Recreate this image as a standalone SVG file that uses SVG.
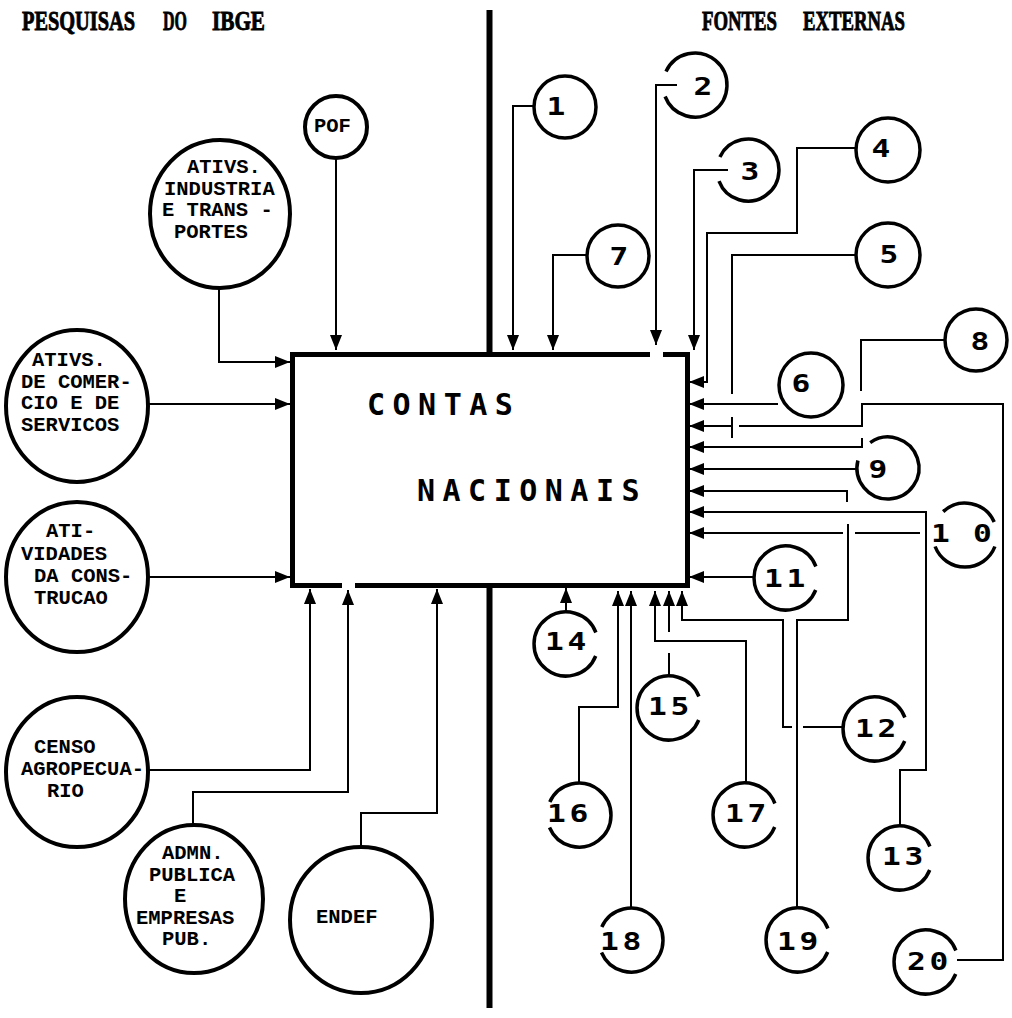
<svg xmlns="http://www.w3.org/2000/svg" width="1012" height="1018" viewBox="0 0 1012 1018">
<style>
.hdr{font-family:"Liberation Serif",serif;font-weight:bold;font-size:28px;fill:#000;stroke:#000;stroke-width:0.9}
.lbl{font-family:"Liberation Mono",monospace;font-weight:bold;font-size:20.5px;fill:#000}
.big{font-family:"DejaVu Sans Mono",monospace;font-weight:bold;font-size:30px;letter-spacing:7.5px;fill:#000}
.num{font-family:"DejaVu Sans Mono",monospace;font-weight:bold;font-size:25px;fill:#000}
.n1{text-anchor:middle}
.n2{letter-spacing:3px}
.bigc{fill:none;stroke:#000;stroke-width:4}
.nc{fill:none;stroke:#000;stroke-width:3.5}
.ln{fill:none;stroke:#000;stroke-width:2}
.box{fill:none;stroke:#000;stroke-width:5;stroke-linejoin:miter}
</style>
<defs>
<marker id="ah" viewBox="0 0 15 12" refX="15" refY="6" markerWidth="15" markerHeight="12" markerUnits="userSpaceOnUse" orient="auto">
<path d="M0,0 L15,6 L0,12 z" fill="#000"/>
</marker>
</defs>
<rect width="1012" height="1018" fill="#fff"/>

<g id="headers">
<text class="hdr" transform="translate(22,30) scale(0.75,1)" textLength="150.7" lengthAdjust="spacingAndGlyphs">PESQUISAS</text>
<text class="hdr" transform="translate(163,30) scale(0.75,1)" textLength="32" lengthAdjust="spacingAndGlyphs">DO</text>
<text class="hdr" transform="translate(212,30) scale(0.75,1)" textLength="70.7" lengthAdjust="spacingAndGlyphs">IBGE</text>
<text class="hdr" transform="translate(702,30) scale(0.75,1)" textLength="100" lengthAdjust="spacingAndGlyphs">FONTES</text>
<text class="hdr" transform="translate(803,30) scale(0.75,1)" textLength="136" lengthAdjust="spacingAndGlyphs">EXTERNAS</text>
</g>

<g id="divider">
<path d="M489.5,10 V352 M489.5,588 V1008" stroke="#000" stroke-width="6" fill="none"/>
</g>

<g id="contas-nacionais">
<path class="box" d="M663,354.5 H687.5 V585.5 H355"/>
<path class="box" d="M342,585.5 H292.5 V354.5 H650"/>
<text class="big" x="367" y="415">CONTAS</text>
<text class="big" x="417" y="501">NACIONAIS</text>
</g>

<g id="connectors">
<path class="ln" d="M336,158 V350" marker-end="url(#ah)"/>
<path class="ln" d="M219,288 V362 H290" marker-end="url(#ah)"/>
<path class="ln" d="M148,404 H290" marker-end="url(#ah)"/>
<path class="ln" d="M148,577 H290" marker-end="url(#ah)"/>
<path class="ln" d="M148,770 H310 V589" marker-end="url(#ah)"/>
<path class="ln" d="M193,825 V792 H348 V590" marker-end="url(#ah)"/>
<path class="ln" d="M361,847 V813 H437 V589" marker-end="url(#ah)"/>
<path class="ln" d="M533,106 H513 V350" marker-end="url(#ah)"/>
<path class="ln" d="M587,255 H553 V350" marker-end="url(#ah)"/>
<path class="ln" d="M677,85 H656 V345" marker-end="url(#ah)"/>
<path class="ln" d="M728,170 H694 V350" marker-end="url(#ah)"/>
<path class="ln" d="M857,148 H797 V233 H707 V382 H689" marker-end="url(#ah)"/>
<path class="ln" d="M857,255 H732 V394 M732,417 V438"/>
<path class="ln" d="M778,404 H689" marker-end="url(#ah)"/>
<path class="ln" d="M945,340 H861 V391"/>
<path class="ln" d="M957,960 H1003 V404 H862 V426 H739"/>
<path class="ln" d="M732,426 H689" marker-end="url(#ah)"/>
<path class="ln" d="M862,438 V447 H689" marker-end="url(#ah)"/>
<path class="ln" d="M857,469 H689" marker-end="url(#ah)"/>
<path class="ln" d="M847,502 V491 H689" marker-end="url(#ah)"/>
<path class="ln" d="M900,827 V770 H926 V512 H689" marker-end="url(#ah)"/>
<path class="ln" d="M920,533 H855"/>
<path class="ln" d="M843,533 H689" marker-end="url(#ah)"/>
<path class="ln" d="M797,908 V620 H848 V524"/>
<path class="ln" d="M754,577 H689" marker-end="url(#ah)"/>
<path class="ln" d="M566,612 V588" marker-end="url(#ah)"/>
<path class="ln" d="M579,783 V707 H618 V591" marker-end="url(#ah)"/>
<path class="ln" d="M631,908 V591" marker-end="url(#ah)"/>
<path class="ln" d="M746,783 V641 H655 V591" marker-end="url(#ah)"/>
<path class="ln" d="M669,676 V653"/>
<path class="ln" d="M669,632 V591" marker-end="url(#ah)"/>
<path class="ln" d="M843,727 H803 M792,727 H783 V620 H682 V591" marker-end="url(#ah)"/>
</g>

<g id="pof"><ellipse class="bigc" cx="336" cy="127" rx="31" ry="31"/><text class="lbl" x="314" y="132">POF</text></g>
<g id="ativs-industria"><ellipse class="bigc" cx="220" cy="214" rx="70" ry="74"/>
<text class="lbl" x="187" y="173">ATIVS.</text><text class="lbl" x="164" y="194.5">INDUSTRIA</text><text class="lbl" x="162" y="216">E TRANS -</text><text class="lbl" x="174" y="237.5">PORTES</text></g>
<g id="ativs-comercio"><ellipse class="bigc" cx="77" cy="406" rx="71" ry="76"/>
<text class="lbl" x="32" y="366">ATIVS.</text><text class="lbl" x="21" y="387.5">DE COMER-</text><text class="lbl" x="21" y="409">CIO E DE</text><text class="lbl" x="21" y="430.5">SERVICOS</text></g>
<g id="atividades-construcao"><ellipse class="bigc" cx="77" cy="577" rx="71" ry="75"/>
<text class="lbl" x="46" y="537">ATI-</text><text class="lbl" x="21" y="560">VIDADES</text><text class="lbl" x="34" y="582">DA CONS-</text><text class="lbl" x="34" y="603.5">TRUCAO</text></g>
<g id="censo"><ellipse class="bigc" cx="77" cy="772" rx="71" ry="75"/>
<text class="lbl" x="34" y="753">CENSO</text><text class="lbl" x="21" y="775">AGROPECUA-</text><text class="lbl" x="47" y="796.5">RIO</text></g>
<g id="admn"><ellipse class="bigc" cx="194" cy="899" rx="69" ry="74"/>
<text class="lbl" x="162" y="859">ADMN.</text><text class="lbl" x="149" y="880.5">PUBLICA</text><text class="lbl" x="174" y="902">E</text><text class="lbl" x="136" y="923.5">EMPRESAS</text><text class="lbl" x="162" y="945">PUB.</text></g>
<g id="endef"><ellipse class="bigc" cx="361" cy="920" rx="71" ry="73"/><text class="lbl" x="316" y="923">ENDEF</text></g>

<g id="f1"><circle class="nc" cx="565" cy="107" r="31"/><text class="num n1" transform="translate(556,115) scale(1.25,1)">1</text></g>
<g id="f2"><path class="nc" d="M666,71.5 A32,32 0 1 1 665.1,96.5"/><text class="num n1" transform="translate(703,95) scale(1.25,1)">2</text></g>
<g id="f3"><path class="nc" d="M719.9,156.9 A31,31 0 1 1 719,181.1"/><text class="num n1" transform="translate(750,180) scale(1.25,1)">3</text></g>
<g id="f4"><circle class="nc" cx="888" cy="150" r="32"/><text class="num n1" transform="translate(881,157) scale(1.25,1)">4</text></g>
<g id="f5"><circle class="nc" cx="888" cy="255" r="32"/><text class="num n1" transform="translate(889,263) scale(1.25,1)">5</text></g>
<g id="f6"><circle class="nc" cx="811" cy="385" r="32"/><text class="num n1" transform="translate(801,392) scale(1.25,1)">6</text></g>
<g id="f7"><circle class="nc" cx="618" cy="256" r="31"/><text class="num n1" transform="translate(619,265) scale(1.25,1)">7</text></g>
<g id="f8"><circle class="nc" cx="976" cy="340" r="31"/><text class="num n1" transform="translate(980,350) scale(1.25,1)">8</text></g>
<g id="f9"><path class="nc" d="M870.2,442.6 A31,31 0 1 1 857.9,460.5"/><text class="num n1" transform="translate(878,478) scale(1.25,1)">9</text></g>
<g id="f10"><path class="nc" d="M994.9,546.5 A32,32 0 0 1 935.1,546.5 M943.2,511.6 A32,32 0 0 1 994.2,522"/><text class="num" style="letter-spacing:1.8px" transform="translate(931,542) scale(1.25,1)">1 0</text></g>
<g id="f11"><path class="nc" d="M815.7,590 A32,32 0 1 1 815.9,566.5"/><text class="num n2" transform="translate(764,587) scale(1.25,1)">11</text></g>
<g id="f12"><path class="nc" d="M904.7,741 A32,32 0 1 1 904.9,717.5"/><text class="num n2" transform="translate(855,737) scale(1.25,1)">12</text></g>
<g id="f13"><path class="nc" d="M929.7,870 A32,32 0 1 1 929.9,846.5"/><text class="num n2" transform="translate(882,865) scale(1.25,1)">13</text></g>
<g id="f14"><path class="nc" d="M595.7,656 A32,32 0 1 1 595.9,632.5"/><text class="num n2" transform="translate(545,650) scale(1.25,1)">14</text></g>
<g id="f15"><path class="nc" d="M698.7,720 A32,32 0 1 1 698.9,696.5"/><text class="num n2" transform="translate(648,715) scale(1.25,1)">15</text></g>
<g id="f16"><path class="nc" d="M549.8,802 A32,32 0 1 1 549.5,827.5"/><text class="num n2" transform="translate(547,822) scale(1.25,1)">16</text></g>
<g id="f17"><path class="nc" d="M774.7,827 A32,32 0 1 1 774.9,803.5"/><text class="num n2" transform="translate(725,822) scale(1.25,1)">17</text></g>
<g id="f18"><path class="nc" d="M601.8,927 A32,32 0 1 1 601.5,952.5"/><text class="num n2" transform="translate(600,950) scale(1.25,1)">18</text></g>
<g id="f19"><path class="nc" d="M827.7,952 A32,32 0 1 1 827.9,928.5"/><text class="num n2" transform="translate(777,950) scale(1.25,1)">19</text></g>
<g id="f20"><path class="nc" d="M955.7,974 A32,32 0 1 1 955.9,950.5"/><text class="num n2" transform="translate(907,970) scale(1.25,1)">20</text></g>
</svg>
